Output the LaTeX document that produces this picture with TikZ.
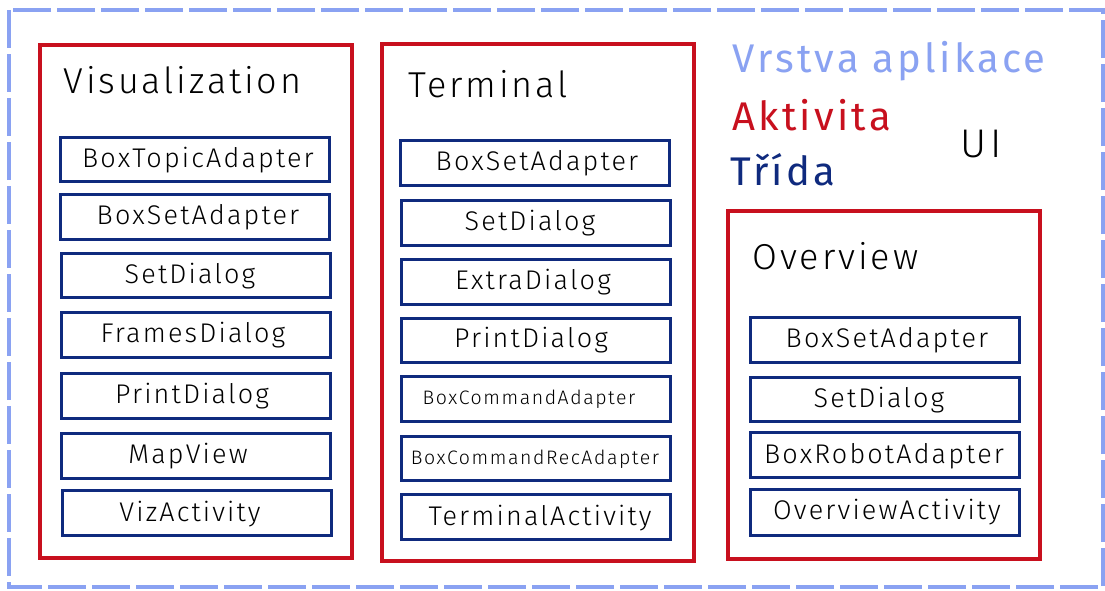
\documentclass[tikz,border=0pt]{standalone}
\usepackage{fontspec}
\setmainfont{Fira Sans Light}[LetterSpace=8]
\newfontfamily\legfont{Fira Sans}[LetterSpace=8]
\definecolor{lblue}{HTML}{8AA2F2}
\definecolor{ared}{HTML}{C8101E}
\definecolor{navy}{HTML}{0F2A7E}
\tikzset{
  layer/.style={draw=lblue,line width=4pt,dash pattern=on 38pt off 6pt},
  activity/.style={draw=ared,line width=4pt},
  cls/.style={draw=navy,line width=3pt,fill=white},
  clstext/.style={font=\fontsize{27}{30}\selectfont,text=black},
  smalltext/.style={font=\fontsize{19.5}{22}\selectfont,text=black},
  title/.style={font=\fontsize{36}{40}\selectfont,anchor=west,text=black},
  legend/.style={font=\legfont\fontsize{40}{44}\selectfont,anchor=west},
}
\begin{document}
\begin{tikzpicture}[x=1pt,y=-1pt]
\useasboundingbox (0,0) rectangle (1105,590);
\fill[white] (0,0) rectangle (1105,590);
\draw[layer] (9,10) rectangle (1103,587);
% activity boxes
\draw[activity] (40,45) rectangle (352,558);
\draw[activity] (382,44) rectangle (694,561);
\draw[activity] (728,211) rectangle (1040,559);
\node[title] (vizt) at (60,80) {Visualization};
\node[title] (termt) at (405,84) {Terminal};
\node[title] (ovt) at (749,256) {Overview};
% legend
\node[legend,text=lblue] (leg1) at (729,61) {Vrstva aplikace};
\node[legend,text=ared] (leg2) at (729,115) {Aktivita};
\node[legend,text=navy] (leg3) at (727,170) {Třída};
\node[font=\fontsize{40}{44}\selectfont,text=black] (ui) at (981,144) {UI};
% Visualization column
\draw[cls] (60,137) rectangle (329,181);
\node[clstext] (v1) at (198,160) {BoxTopicAdapter};
\draw[cls] (60,194) rectangle (329,239);
\node[clstext] (v2) at (198,217) {BoxSetAdapter};
\draw[cls] (61,253) rectangle (330,297);
\node[clstext] (v3) at (190,276) {SetDialog};
\draw[cls] (61,312) rectangle (330,357);
\node[clstext] (v4) at (193,335) {FramesDialog};
\draw[cls] (61,373) rectangle (330,418);
\node[clstext] (v5) at (192,396) {PrintDialog};
\draw[cls] (61,433) rectangle (330,478);
\node[clstext] (v6) at (188,456) {MapView};
\draw[cls] (62,490) rectangle (331,535);
\node[clstext] (v7) at (190,514) {VizActivity};
% Terminal column
\draw[cls] (400,140) rectangle (669,185);
\node[clstext] (t1) at (537,163) {BoxSetAdapter};
\draw[cls] (401,200) rectangle (670,245);
\node[clstext] (t2) at (530,223) {SetDialog};
\draw[cls] (401,259) rectangle (670,304);
\node[clstext] (t3) at (533,282) {ExtraDialog};
\draw[cls] (401,318) rectangle (670,362);
\node[clstext] (t4) at (531,340) {PrintDialog};
\draw[cls] (401,376) rectangle (670,421);
\node[smalltext] (t5) at (529,399) {BoxCommandAdapter};
\draw[cls] (401,436) rectangle (670,480);
\node[smalltext] (t6) at (535,459) {BoxCommandRecAdapter};
\draw[cls] (401,494) rectangle (670,539);
\node[clstext] (t7) at (540,518) {TerminalActivity};
% Overview column
\draw[cls] (750,317) rectangle (1019,362);
\node[clstext] (o1) at (887,340) {BoxSetAdapter};
\draw[cls] (750,377) rectangle (1019,421);
\node[clstext] (o2) at (879,400) {SetDialog};
\draw[cls] (750,432) rectangle (1019,477);
\node[clstext] (o3) at (884,456) {BoxRobotAdapter};
\draw[cls] (750,489) rectangle (1019,535);
\node[clstext] (o4) at (887,512) {OverviewActivity};
\end{tikzpicture}
\end{document}
